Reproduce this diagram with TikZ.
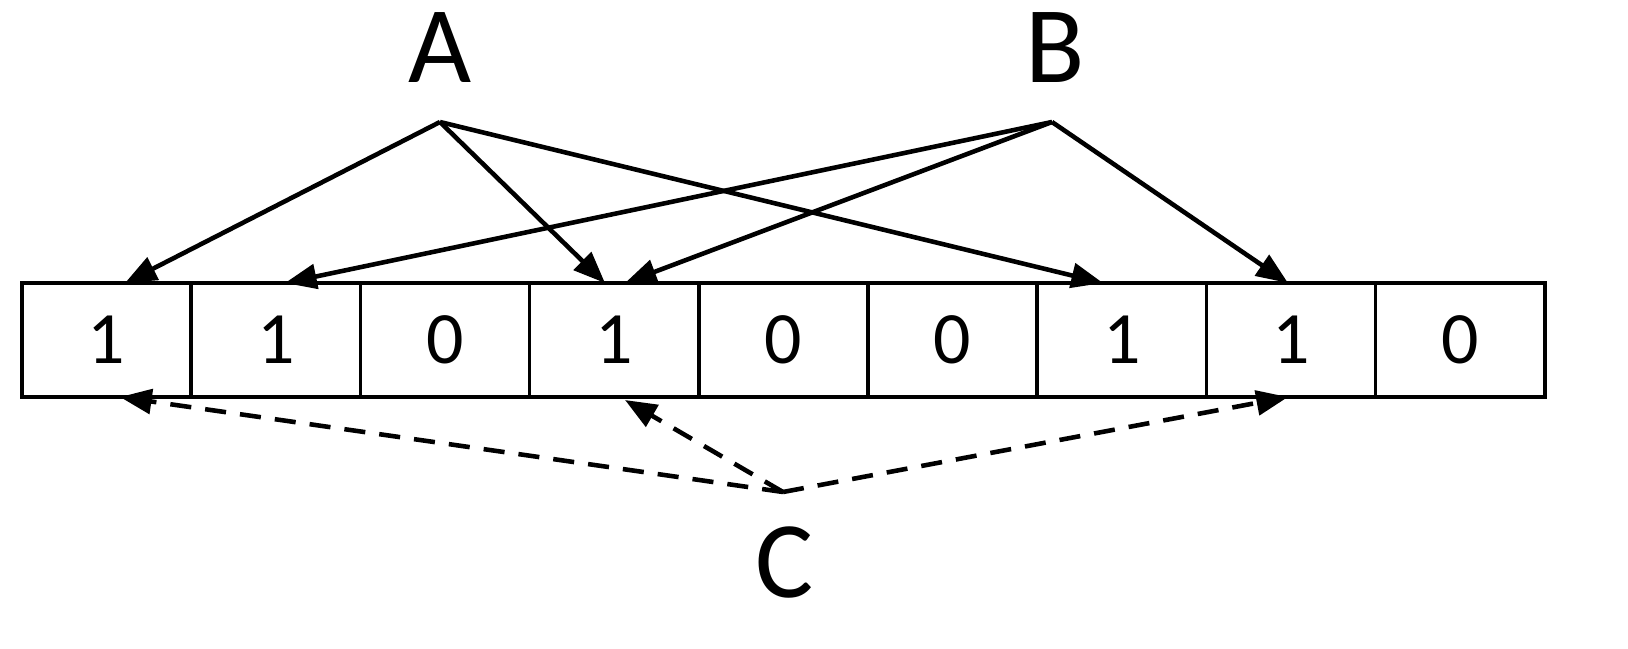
\documentclass[tikz,border=0pt]{standalone}
\usepackage{fontspec}
\setmainfont{Carlito}
\usetikzlibrary{arrows.meta}
\begin{document}
\begin{tikzpicture}[x=0.01cm,y=-0.01cm,
  cell/.style={draw,line width=1pt,minimum width=1.69cm,minimum height=1.14cm,inner sep=0,font=\fontsize{21}{21}\selectfont},
  lab/.style={font=\fontsize{31}{31}\selectfont,inner sep=0},
  arr/.style={line width=1.3pt,-{Triangle[length=9pt,width=7pt]}},
  darr/.style={arr,dash pattern=on 6pt off 4pt}]
\useasboundingbox (0,0) rectangle (1628,648);
\foreach \d [count=\i] in {1,1,0,1,0,0,1,1,0}
  \node[cell] (c\i) at ({22+169.2*(\i-0.5)},340) {\d};
\node[lab] (A) at (440,48) {A};
\node[lab] (B) at (1055,48) {B};
\node[lab] (C) at (785,562) {C};
\coordinate (a) at (440,122);
\coordinate (b) at (1052,122);
\coordinate (c) at (783,492);
\coordinate (t1) at (125,283);
\coordinate (t2) at (605,283);
\coordinate (t3) at (1103,283);
\coordinate (t4) at (285,283);
\coordinate (t5) at (625,283);
\coordinate (t6) at (1288,283);
\coordinate (d1) at (120,397);
\coordinate (d2) at (625,400);
\coordinate (d3) at (1288,397);
\draw[arr] (a) -- (t1);
\draw[arr] (a) -- (t2);
\draw[arr] (a) -- (t3);
\draw[arr] (b) -- (t4);
\draw[arr] (b) -- (t5);
\draw[arr] (b) -- (t6);
\draw[darr] (c) -- (d1);
\draw[darr] (c) -- (d2);
\draw[darr] (c) -- (d3);
\end{tikzpicture}
\end{document}
